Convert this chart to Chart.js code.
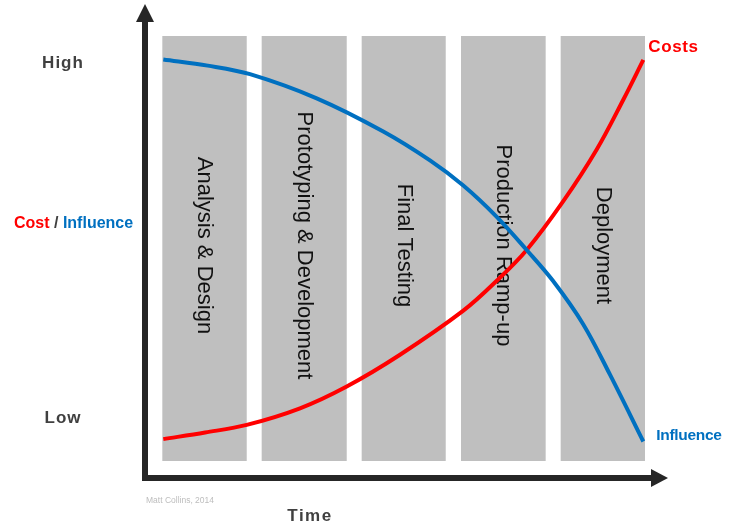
<!DOCTYPE html>
<html>
<head>
<meta charset="utf-8">
<script src="https://cdn.jsdelivr.net/npm/chart.js@4"></script>
<style>
html,body{margin:0;padding:0;background:#fff;}
#wrap{width:742px;height:531px;}
</style>
</head>
<body>
<div id="wrap"><canvas id="c" width="742" height="531"></canvas></div>
<script>
// ---- data ----
const phases = ["Analysis & Design", "Prototyping & Development", "Final Testing", "Production Ramp-up", "Deployment"];
const phaseStart = [3.31, 22.31, 41.43, 60.42, 79.48];
const phaseEnd   = [19.45, 38.57, 57.50, 76.61, 95.60];
const phaseTop = 93.25;
const phaseBottom = 3.59;

const timeCost = [3.5, 11.5, 19.45, 29.64, 38.57, 48.76, 60.86, 67.25, 72.98, 79.98, 86.37, 91.45, 95.28];
const cost     = [8.2, 9.6, 11.2, 14.7, 19.3, 26.0, 35.3, 41.6, 48.1, 58.4, 69.3, 79.8, 88.2];

const timeInfluence = [3.5, 12.0, 20.08, 32.83, 45.56, 54.49, 60.86, 67.25, 72.98, 78.0, 83.81, 88.91, 95.28];
const influence     = [88.3, 87.0, 85.2, 80.1, 73.1, 67.0, 61.7, 55.1, 48.1, 41.6, 32.4, 21.8, 7.7];

const yTickValues = [87.5, 12.5];
const yTickLabels = ["High", "Low"];

const RED = "#ff0000", BLUE = "#0070c0", AXIS = "#262626", LABEL = "#404040";
const FONT = "'Liberation Sans', Arial, sans-serif";

const bandPlugin = {
  id: "bands",
  beforeDatasetsDraw(chart) {
    const ctx = chart.ctx, xs = chart.scales.x, ys = chart.scales.y;
    ctx.save();
    const yt = ys.getPixelForValue(phaseTop), yb = ys.getPixelForValue(phaseBottom);
    phases.forEach((name, i) => {
      const x0 = xs.getPixelForValue(phaseStart[i]), x1 = xs.getPixelForValue(phaseEnd[i]);
      ctx.fillStyle = "#bfbfbf";
      ctx.fillRect(x0, yt, x1 - x0, yb - yt);
      ctx.save();
      ctx.translate((x0 + x1) / 2, (yt + yb) / 2 - 3);
      ctx.rotate(Math.PI / 2);
      ctx.fillStyle = "#111";
      ctx.font = "22px " + FONT;
      ctx.textAlign = "center";
      ctx.textBaseline = "middle";
      ctx.fillText(name, 0, 0);
      ctx.restore();
    });
    ctx.restore();
  }
};

const axesPlugin = {
  id: "axesArrows",
  afterDraw(chart) {
    const ctx = chart.ctx, a = chart.chartArea, xs = chart.scales.x, ys = chart.scales.y;
    ctx.save();
    ctx.strokeStyle = AXIS; ctx.fillStyle = AXIS; ctx.lineWidth = 6;
    // y axis
    ctx.beginPath(); ctx.moveTo(a.left, a.bottom + 3); ctx.lineTo(a.left, a.top + 16); ctx.stroke();
    ctx.beginPath(); ctx.moveTo(a.left, a.top); ctx.lineTo(a.left - 9, a.top + 18); ctx.lineTo(a.left + 9, a.top + 18); ctx.closePath(); ctx.fill();
    // x axis
    ctx.beginPath(); ctx.moveTo(a.left - 3, a.bottom); ctx.lineTo(a.right - 15, a.bottom); ctx.stroke();
    ctx.beginPath(); ctx.moveTo(a.right, a.bottom); ctx.lineTo(a.right - 17, a.bottom - 9); ctx.lineTo(a.right - 17, a.bottom + 9); ctx.closePath(); ctx.fill();

    // y tick labels
    ctx.font = "bold 17px " + FONT;
    ctx.letterSpacing = "1px";
    ctx.fillStyle = LABEL; ctx.textAlign = "center"; ctx.textBaseline = "middle";
    yTickValues.forEach((v, i) => ctx.fillText(yTickLabels[i], 63, ys.getPixelForValue(v)));

    // axis titles
    ctx.letterSpacing = "0px";
    ctx.font = "bold 16px " + FONT;
    ctx.textAlign = "left";
    const ty = ys.getPixelForValue(53.6);
    let x = 14;
    ctx.fillStyle = RED; ctx.fillText("Cost", x, ty); x += ctx.measureText("Cost").width;
    ctx.fillStyle = LABEL; ctx.fillText(" / ", x, ty); x += ctx.measureText(" / ").width;
    ctx.fillStyle = BLUE; ctx.fillText("Influence", x, ty);

    ctx.font = "bold 17px " + FONT;
    ctx.letterSpacing = "1.5px";
    ctx.fillStyle = LABEL; ctx.textAlign = "center";
    ctx.fillText("Time", 310, 516);

    ctx.letterSpacing = "0px";
    ctx.font = "8.5px " + FONT;
    ctx.fillStyle = "#bdbdbd"; ctx.textAlign = "left";
    ctx.fillText("Matt Collins, 2014", 146, 501);

    // series end labels
    const cx = xs.getPixelForValue(timeCost[timeCost.length - 1]);
    const cy = ys.getPixelForValue(cost[cost.length - 1]);
    ctx.font = "bold 17px " + FONT; ctx.letterSpacing = "0.6px";
    ctx.fillStyle = RED; ctx.fillText("Costs", cx + 5, cy - 13);
    const ix = xs.getPixelForValue(timeInfluence[timeInfluence.length - 1]);
    const iy = ys.getPixelForValue(influence[influence.length - 1]);
    ctx.font = "bold 15.5px " + FONT; ctx.letterSpacing = "-0.3px";
    ctx.fillStyle = BLUE; ctx.fillText("Influence", ix + 13, iy - 6);
    ctx.restore();
  }
};

new Chart(document.getElementById("c"), {
  type: "line",
  data: {
    datasets: [
      { label: "Influence", data: timeInfluence.map((t, i) => ({x: t, y: influence[i]})),
        borderColor: BLUE, borderWidth: 4, pointRadius: 0, tension: 0.35, fill: false },
      { label: "Costs", data: timeCost.map((t, i) => ({x: t, y: cost[i]})),
        borderColor: RED, borderWidth: 4, pointRadius: 0, tension: 0.35, fill: false }
    ]
  },
  options: {
    responsive: false,
    animation: false,
    layout: { padding: { left: 145, right: 74, top: 4, bottom: 53 } },
    plugins: { legend: { display: false }, tooltip: { enabled: false } },
    scales: {
      x: { type: "linear", min: 0, max: 100, display: false },
      y: { type: "linear", min: 0, max: 100, display: false }
    }
  },
  plugins: [bandPlugin, axesPlugin]
});
</script>
</body>
</html>
